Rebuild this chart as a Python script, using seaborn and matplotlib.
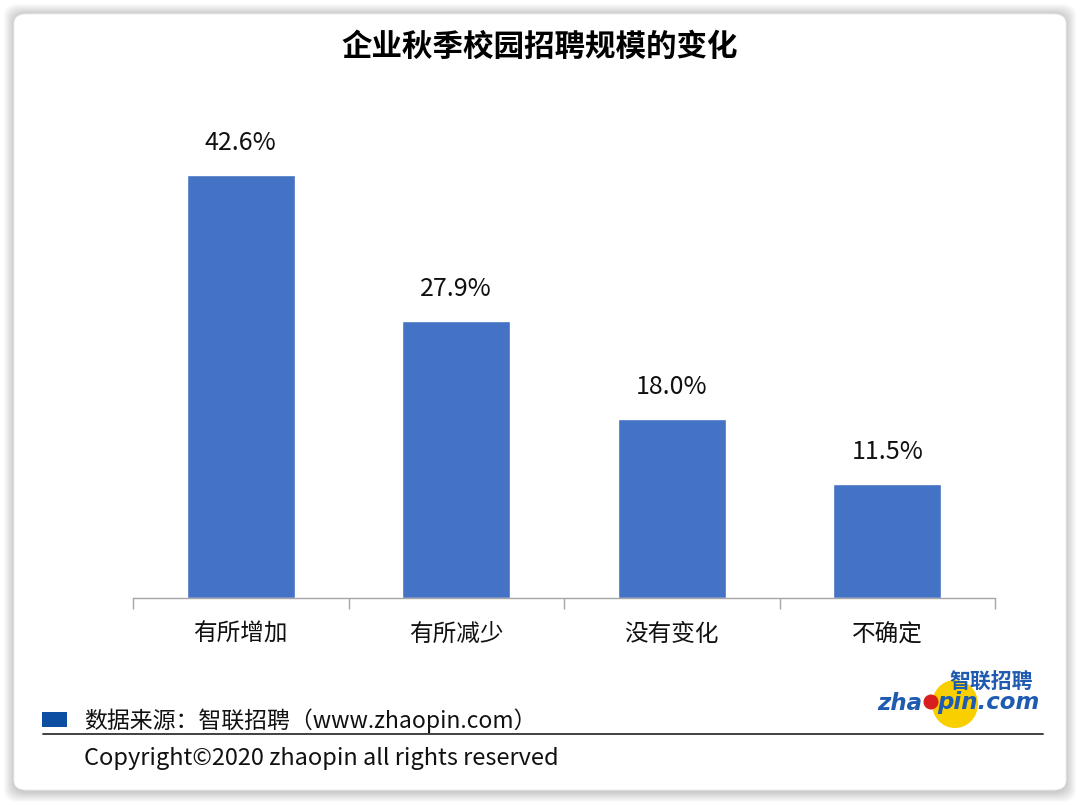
import matplotlib
matplotlib.use("Agg")
import matplotlib.pyplot as plt
from matplotlib.patches import FancyBboxPatch, Rectangle, Circle, Ellipse
import seaborn as sns
import pandas as pd

categories = ["有所增加", "有所减少", "没有变化", "不确定"]
values = [42.6, 27.9, 18.0, 11.5]
title = "企业秋季校园招聘规模的变化"
source_text = "数据来源：智联招聘（www.zhaopin.com）"
copyright_text = "Copyright©2020 zhaopin all rights reserved"

sns.set_theme(style="white")
plt.rcParams['font.family'] = ['Noto Sans CJK SC', 'DejaVu Sans']

W, H = 1080, 805
fig = plt.figure(figsize=(W / 100, H / 100), dpi=100)
fig.patch.set_facecolor("white")

def fx(px):
    return px / W

def fy(py):
    return 1 - py / H

# card soft shadow
for g in range(10, 0, -1):
    sh = FancyBboxPatch((fx(14 - g), fy(792 + g)), fx(1052 + 2 * g), (778 + 2 * g) / H,
                        boxstyle="round,pad=0,rounding_size=0.014", transform=fig.transFigure,
                        facecolor="black", edgecolor="none", alpha=0.018, zorder=0)
    fig.patches.append(sh)
card = FancyBboxPatch((fx(14), fy(790)), fx(1052), 776 / H,
                      boxstyle="round,pad=0,rounding_size=0.012", transform=fig.transFigure,
                      facecolor="white", edgecolor="#eeeeee", linewidth=0.6, zorder=1)
fig.patches.append(card)

ax = fig.add_axes([fx(133), fy(598), fx(995 - 133), 496.5 / H])
ax.set_zorder(3)
ax.patch.set_alpha(0)
df = pd.DataFrame({"cat": categories, "val": values})
sns.barplot(data=df, x="cat", y="val", color="#4472C4", saturation=1, width=0.5, ax=ax)
ax.set_ylim(0, 50)
ax.set_xlim(-0.5, len(categories) - 0.5)
ax.set_xlabel("")
ax.set_ylabel("")
ax.set_yticks([])
for s in ["top", "right", "left"]:
    ax.spines[s].set_visible(False)
ax.spines["bottom"].set_color("#a6a6a6")
ax.spines["bottom"].set_linewidth(1.0)
ax.set_xticks([i - 0.5 for i in range(len(categories) + 1)], minor=True)
ax.set_xticks(range(len(categories)))
ax.set_xticklabels(categories, fontsize=17, color="#111111")
ax.tick_params(axis="x", which="major", length=0, pad=18)
ax.tick_params(axis="x", which="minor", length=8, color="#a6a6a6", width=1.0, direction="out", bottom=True)
for i, v in enumerate(values):
    ax.text(i, v + 3.2, f"{v:.1f}%", ha="center", va="center", fontsize=18, color="#111111")

fig.text(0.5, fy(47), title, ha="center", va="center", fontsize=22, fontweight="heavy", color="black", zorder=5)

# legend / source
fig.patches.append(Rectangle((fx(42), fy(727)), fx(25), 15 / H, transform=fig.transFigure,
                             facecolor="#0b4ea2", edgecolor="none", zorder=5))
fig.text(fx(84), fy(721), source_text, ha="left", va="center", fontsize=16.5, color="#111111", zorder=5)
fig.lines.append(plt.Line2D([fx(43), fx(1043)], [fy(734), fy(734)], transform=fig.transFigure,
                            color="#333333", linewidth=1.3, zorder=6))
fig.text(fx(84), fy(758), copyright_text, ha="left", va="center", fontsize=17, color="#111111", zorder=5)

# logo
lax = fig.add_axes([fx(870), fy(740), fx(175), 80 / H])
lax.set_xlim(0, 175)
lax.set_ylim(80, 0)
lax.axis("off")
lax.set_zorder(6)
lax.add_patch(Ellipse((85, 44), 46, 48, facecolor="#f9cf00", edgecolor="none"))
lax.add_patch(Circle((61, 42), 7.5, facecolor="#d81e1e", edgecolor="none"))
lax.text(121, 22, "智联招聘", ha="center", va="center", fontsize=15, color="#1f5bb0",
         fontweight="bold", style="italic")
lax.text(7, 43, "zha", ha="left", va="center", fontsize=16.5, color="#1f5bb0",
         fontweight="bold", style="italic", family="DejaVu Sans")
lax.text(67, 43, "pin.com", ha="left", va="center", fontsize=16.5, color="#1f5bb0",
         fontweight="bold", style="italic", family="DejaVu Sans")

fig.savefig("out.png", dpi=100, facecolor=fig.get_facecolor())
